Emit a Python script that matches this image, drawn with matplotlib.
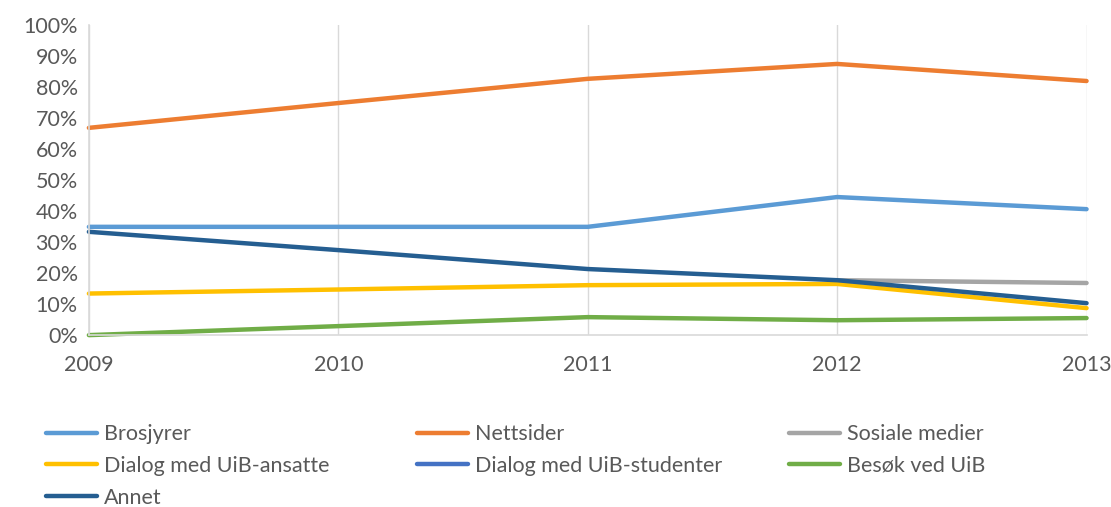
import matplotlib.pyplot as plt
import numpy as np
from matplotlib.ticker import PercentFormatter

plt.rcParams['font.family'] = ['Lato', 'DejaVu Sans']

years = [2009, 2010, 2011, 2012, 2013]

brosjyrer = [34.9, 34.9, 34.9, 44.5, 40.6]
nettsider = [66.8, 74.8, 82.6, 87.4, 81.9]
sosiale_medier = [np.nan, np.nan, np.nan, 17.7, 16.8]
dialog_ansatte = [13.4, 14.7, 16.1, 16.5, 8.7]
dialog_studenter = [np.nan, np.nan, np.nan, np.nan, np.nan]
besok = [0.0, 2.9, 5.8, 4.8, 5.5]
annet = [33.3, 27.4, 21.3, 17.7, 10.3]

series = [
    ('Brosjyrer', brosjyrer, '#5B9BD5'),
    ('Nettsider', nettsider, '#ED7D31'),
    ('Sosiale medier', sosiale_medier, '#A5A5A5'),
    ('Dialog med UiB-ansatte', dialog_ansatte, '#FFC000'),
    ('Dialog med UiB-studenter', dialog_studenter, '#4472C4'),
    ('Besøk ved UiB', besok, '#70AD47'),
    ('Annet', annet, '#255E91'),
]

fig = plt.figure(figsize=(11.11, 5.07), dpi=100)
ax = fig.add_axes([0.080, 0.339, 0.898, 0.612])

handles = []
for name, vals, col in series:
    h, = ax.plot(years, vals, color=col, lw=3.2, label=name, clip_on=False,
                 solid_capstyle='round', solid_joinstyle='round')
    handles.append(h)

ax.set_xlim(2009, 2013)
ax.set_ylim(0, 100)
ax.set_xticks(years)
ax.set_yticks(np.arange(0, 101, 10))
ax.yaxis.set_major_formatter(PercentFormatter(decimals=0))
ax.grid(axis='x', color='#d9d9d9', lw=1)
ax.set_axisbelow(True)
for s in ['top', 'right']:
    ax.spines[s].set_visible(False)
for s in ['left', 'bottom']:
    ax.spines[s].set_color('#d9d9d9')
    ax.spines[s].set_linewidth(1.2)
ax.tick_params(length=0, labelsize=15.5, labelcolor='#595959')
ax.tick_params(axis='x', pad=14)
ax.tick_params(axis='y', pad=8)

# legend: three columns of equal width
col_x = [0.041, 0.375, 0.710]
for i, x in enumerate(col_x):
    leg = fig.legend(handles=handles[i::3], loc='upper left', bbox_to_anchor=(x, 0.163),
                     frameon=False, fontsize=15.5, handlelength=2.4, handletextpad=0.3,
                     labelspacing=0.54, borderpad=0, borderaxespad=0)
    for t in leg.get_texts():
        t.set_color('#595959')

fig.savefig('out.png', dpi=100)
